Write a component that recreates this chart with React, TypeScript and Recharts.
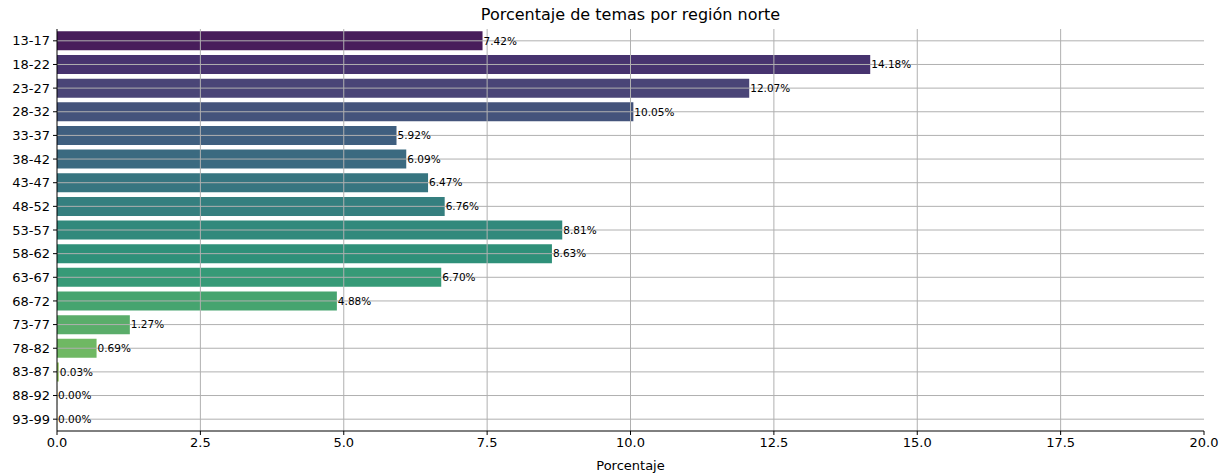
import React from 'react';
import { BarChart, Bar, XAxis, YAxis, Cell, LabelList, ReferenceLine } from 'recharts';

const categories = ['13-17', '18-22', '23-27', '28-32', '33-37', '38-42', '43-47', '48-52', '53-57', '58-62', '63-67', '68-72', '73-77', '78-82', '83-87', '88-92', '93-99'];
const percentages = [7.42, 14.18, 12.07, 10.05, 5.92, 6.09, 6.47, 6.76, 8.81, 8.63, 6.7, 4.88, 1.27, 0.69, 0.03, 0.0, 0.0];
const barColors = ['#481d5b', '#47336f', '#4a4577', '#44537b', '#3f5f7f', '#3b6a80', '#377580', '#357f7f', '#31897c', '#2f9079', '#369a77', '#46a46f', '#5aad6a', '#6fb863', '#8cbe5a', '#a8c552', '#c6ca4c'];
const xTicks = [0, 2.5, 5, 7.5, 10, 12.5, 15, 17.5, 20];

const data = categories.map((cat, i) => ({ cat, value: percentages[i] }));

const font = 'DejaVu Sans, sans-serif';
const tickStyle = { fontSize: 13, fill: '#000', fontFamily: font };
const gridColor = '#b0b0b0';

export default function App() {
  return (
    <div style={{ position: 'fixed', top: 0, left: 0, width: 1226, height: 476, background: '#fff', fontFamily: font }}>
      <div style={{ position: 'absolute', top: 5, left: 57, width: 1147, textAlign: 'center', fontSize: 16, color: '#000' }}>
        Porcentaje de temas por región norte
      </div>
      <BarChart
        width={1226}
        height={476}
        data={data}
        layout="vertical"
        margin={{ top: 29, right: 22, left: 0, bottom: 0 }}
        barCategoryGap="10%"
      >
        <XAxis
          type="number"
          domain={[0, 20]}
          ticks={xTicks}
          tickFormatter={(v) => v.toFixed(1)}
          tick={tickStyle}
          stroke="#000"
          tickSize={4}
          tickMargin={3}
          height={45}
          label={{ value: 'Porcentaje', position: 'insideBottom', offset: 6, fontSize: 13, fill: '#000', fontFamily: font }}
        />
        <XAxis xAxisId="top" type="number" orientation="top" domain={[0, 20]} tick={false} tickLine={false} height={0} stroke="#000" />
        <YAxis
          type="category"
          dataKey="cat"
          width={57}
          tick={tickStyle}
          stroke="#000"
          tickSize={4}
          tickMargin={3}
          interval={0}
        />
        <YAxis yAxisId="right" type="category" dataKey="cat" orientation="right" width={0} tick={false} tickLine={false} stroke="#000" />
        <Bar dataKey="value" isAnimationActive={false} minPointSize={0.1}>
          {data.map((d, i) => (
            <Cell key={d.cat} fill={barColors[i]} />
          ))}
          <LabelList
            dataKey="value"
            position="right"
            offset={1}
            formatter={(v: number) => `${v.toFixed(2)}%`}
            style={{ fontSize: 10.5, fill: '#000', fontFamily: font }}
          />
        </Bar>
        {xTicks.slice(1, -1).map((t) => (
          <ReferenceLine key={`x${t}`} x={t} stroke={gridColor} strokeWidth={1} />
        ))}
        {categories.map((c) => (
          <ReferenceLine key={`y${c}`} y={c} stroke={gridColor} strokeWidth={1} />
        ))}
      </BarChart>
    </div>
  );
}
